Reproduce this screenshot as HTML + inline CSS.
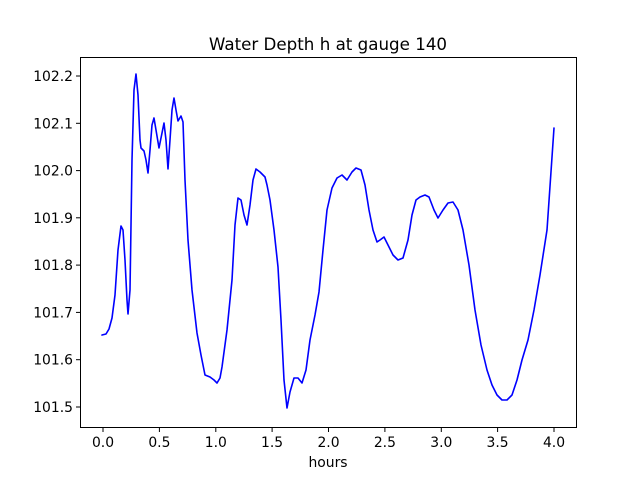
<!DOCTYPE html>
<html><head><meta charset="utf-8"><style>body{margin:0;background:#fff}svg{display:block}text{font-family:"DejaVu Sans","Liberation Sans",sans-serif;font-size:13.9px;fill:#000}</style></head><body>
<svg width="640" height="480" viewBox="0 0 640 480">
<rect width="640" height="480" fill="#fff"/>
<polyline fill="none" stroke="#0000ff" stroke-width="1.6" stroke-linejoin="round" stroke-linecap="round" points="102,335 106,334 109,329 112,318 115,295 118,250 121,226 123,230 125,260 127,300 128,314 130,290 132,160 134,90 136,74 138,95 140,140 141,148 144,151 146,160 148,173 150,150 152,125 154,118 156,130 159,148 161,138 164,123 166,140 168,169 170,140 172,110 174,98 176,110 178,121 181,116 183,122 185,180 188,240 192,290 197,333 201,355 205,375 210,377 214,380 217,383 220,378 222,367 227,330 232,280 235,225 238,198 241,200 244,215 247,225 250,205 253,180 256,169 260,172 265,177 267,185 270,200 274,230 278,267 281,320 284,380 287,408 290,392 294,378 298,378 302,383 306,370 310,340 315,315 319,292 323,250 327,210 332,188 337,178 342,175 347,180 352,172 356,168 361,170 365,185 369,210 373,230 377,242 380,240 384,237 388,245 393,255 398,260 403,258 408,240 412,215 416,200 420,197 425,195 429,197 434,210 438,218 443,210 448,203 453,202 458,210 463,230 469,265 475,310 481,345 487,370 492,385 497,395 502,400 507,400 512,395 517,380 522,360 528,340 534,310 540,275 547,230 554,128"/>
<rect x="80.5" y="57.5" width="496" height="370" fill="none" stroke="#000" stroke-width="1"/>
<g stroke="#000">
<line x1="103" y1="428" x2="103" y2="432"/><line x1="159.4" y1="428" x2="159.4" y2="432"/><line x1="215.8" y1="428" x2="215.8" y2="432"/><line x1="272.1" y1="428" x2="272.1" y2="432"/><line x1="328.5" y1="428" x2="328.5" y2="432"/><line x1="384.9" y1="428" x2="384.9" y2="432"/><line x1="441.3" y1="428" x2="441.3" y2="432"/><line x1="497.6" y1="428" x2="497.6" y2="432"/><line x1="554" y1="428" x2="554" y2="432"/>
<line x1="76" y1="407" x2="80" y2="407"/><line x1="76" y1="359.7" x2="80" y2="359.7"/><line x1="76" y1="312.4" x2="80" y2="312.4"/><line x1="76" y1="265.1" x2="80" y2="265.1"/><line x1="76" y1="217.8" x2="80" y2="217.8"/><line x1="76" y1="170.6" x2="80" y2="170.6"/><line x1="76" y1="123.3" x2="80" y2="123.3"/><line x1="76" y1="76" x2="80" y2="76"/>
</g>
<g text-anchor="middle">
<text x="103" y="447">0.0</text><text x="159.4" y="447">0.5</text><text x="215.8" y="447">1.0</text><text x="272.1" y="447">1.5</text><text x="328.5" y="447">2.0</text><text x="384.9" y="447">2.5</text><text x="441.3" y="447">3.0</text><text x="497.6" y="447">3.5</text><text x="554" y="447">4.0</text>
<text x="328" y="467">hours</text>
<text x="328" y="50" style="font-size:16.7px">Water Depth h at gauge 140</text>
</g>
<g text-anchor="end">
<text x="73" y="412">101.5</text><text x="73" y="364.7">101.6</text><text x="73" y="317.4">101.7</text><text x="73" y="270.1">101.8</text><text x="73" y="222.8">101.9</text><text x="73" y="175.6">102.0</text><text x="73" y="128.3">102.1</text><text x="73" y="81">102.2</text>
</g>
</svg>
</body></html>
